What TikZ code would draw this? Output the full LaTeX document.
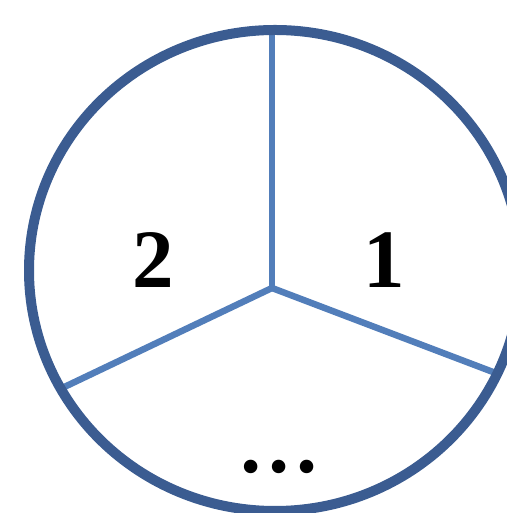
\documentclass[tikz,border=0pt]{standalone}
\usepackage{fontspec}
\setmainfont{Liberation Serif}
\definecolor{rimblue}{RGB}{59,92,145}
\definecolor{spokeblue}{RGB}{82,126,186}
\tikzset{
  rim/.style={draw=rimblue, line width=10pt},
  spoke/.style={draw=spokeblue, line width=6.5pt},
  lbl/.style={anchor=base, inner sep=0pt, font=\fontsize{83}{83}\selectfont\bfseries}
}
\begin{document}
\begin{tikzpicture}[x=1pt,y=1pt]
  \useasboundingbox (0,0) rectangle (506,513);
  \coordinate (J) at (272,225);
  \coordinate (T) at (272,483);
  \coordinate (R) at (493,141);
  \coordinate (L) at (58,123);
  \draw[spoke, line cap=butt] (J) -- (T);
  \draw[spoke] (J) -- (R);
  \draw[spoke] (J) -- (L);
  \draw[rim] (275,242.5) ellipse [x radius=246, y radius=240.5];
  \node[lbl] (two) at (153.5,225) {2};
  \node[lbl] (one) at (384,225) {1};
  \node[lbl] (dots) at (279,40) {…};
\end{tikzpicture}
\end{document}
